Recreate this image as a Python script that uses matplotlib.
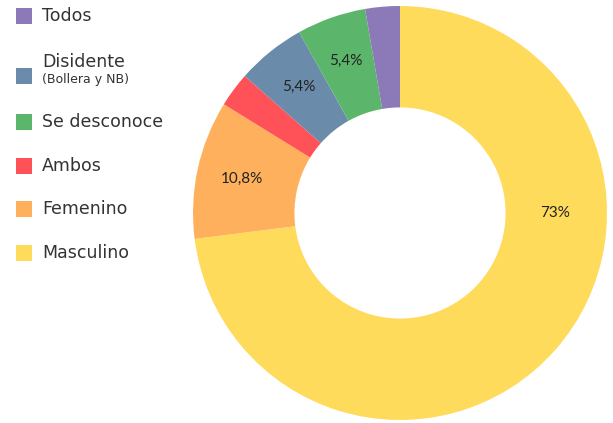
import numpy as np
import matplotlib
matplotlib.use("Agg")
import matplotlib.pyplot as plt
from matplotlib.patches import Rectangle

plt.rcParams['font.family'] = ['DejaVu Sans']

# data (clockwise from 12 o'clock)
categories = ["Masculino", "Femenino", "Ambos", "Disidente", "Se desconoce", "Todos"]
shares = [73, 10.8, 2.7, 5.4, 5.4, 2.7]
colors = ["#ffdb5c", "#ffb05c", "#ff5158", "#6a8caa", "#5bb56a", "#8c7ab8"]

# legend (top to bottom)
legend_labels = ["Todos", "Disidente", "Se desconoce", "Ambos", "Femenino", "Masculino"]
legend_sub = {"Disidente": "(Bollera y NB)"}
legend_y = [16, 76, 122, 166, 209, 253]

W, H = 613, 423
fig = plt.figure(figsize=(W / 100, H / 100), dpi=100)

cx, cy, r = 400, 213, 207
ax = fig.add_axes([(cx - r) / W, (H - cy - r) / H, 2 * r / W, 2 * r / H])


def fmt(p):
    if p < 3:
        return ""
    if abs(p - round(p)) < 0.05:
        return "%d%%" % round(p)
    return ("%.1f%%" % p).replace(".", ",")


wedges, texts, autotexts = ax.pie(
    shares, colors=colors, startangle=90, counterclock=False,
    radius=1, autopct=fmt, pctdistance=0.78,
    wedgeprops=dict(width=0.49, linewidth=0),
    textprops=dict(fontsize=11, color="#222222", family=["Lato", "DejaVu Sans"]))
# the big slice label sits on the right side of the ring
autotexts[0].set_position((0.75, 0.0))
ax.set_xlim(-1, 1)
ax.set_ylim(-1, 1)
ax.set_aspect("equal")
ax.axis("off")

# manual legend drawn in pixel coords
lax = fig.add_axes([0, 0, 1, 1], zorder=-1)
lax.set_xlim(0, W)
lax.set_ylim(H, 0)
lax.axis("off")
col_map = dict(zip(categories, colors))
for name, y in zip(legend_labels, legend_y):
    lax.add_patch(Rectangle((16, y - 8), 16, 16, color=col_map[name], lw=0))
    if name in legend_sub:
        lax.text(42, y - 14, name, fontsize=12.5, color="#333333", va="center")
        lax.text(42, y + 4, legend_sub[name], fontsize=9, color="#333333", va="center")
    else:
        lax.text(42, y, name, fontsize=12.5, color="#333333", va="center")

fig.savefig("out.png", dpi=100)
